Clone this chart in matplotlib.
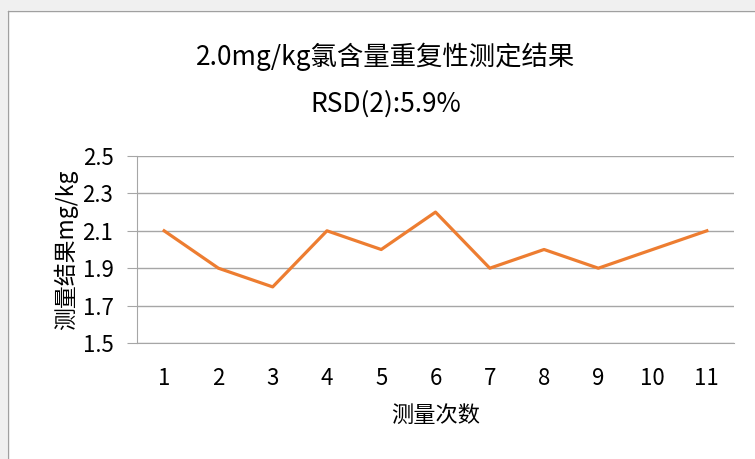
import matplotlib
matplotlib.use("Agg")
import matplotlib.pyplot as plt
from matplotlib.patches import Rectangle
from matplotlib.lines import Line2D

plt.rcParams['font.family'] = ['Noto Sans CJK SC', 'DejaVu Sans']

runs = ["1", "2", "3", "4", "5", "6", "7", "8", "9", "10", "11"]
results = [2.1, 1.9, 1.8, 2.1, 2.0, 2.2, 1.9, 2.0, 1.9, 2.0, 2.1]
yticks = [1.5, 1.7, 1.9, 2.1, 2.3, 2.5]

W, H = 755, 459
fig = plt.figure(figsize=(W / 100, H / 100), dpi=100)

# window-like frame at top and left
fig.patches.append(Rectangle((0, 1 - 10 / H), 1, 10 / H, transform=fig.transFigure,
                             facecolor="#f0f0f0", edgecolor="none", zorder=0))
fig.patches.append(Rectangle((0, 0), 7 / W, 1, transform=fig.transFigure,
                             facecolor="#f0f0f0", edgecolor="none", zorder=0))
fig.lines.append(Line2D([7.5 / W, 1], [1 - 10.5 / H, 1 - 10.5 / H], transform=fig.transFigure,
                        color="#a0a0a0", lw=1))
fig.lines.append(Line2D([7.5 / W, 7.5 / W], [0, 1 - 10.5 / H], transform=fig.transFigure,
                        color="#a0a0a0", lw=1))

ax = fig.add_axes([137 / W, 1 - 343 / H, (734 - 137) / W, (343 - 156) / H])
x = list(range(1, len(runs) + 1))
ax.plot(x, results, color="#ED7D31", lw=2.3, solid_joinstyle="round", zorder=3)

ax.set_xlim(0.5, len(runs) + 0.5)
ax.set_ylim(1.5, 2.5)
ax.set_yticks(yticks)
ax.set_yticklabels([f"{v:.1f}" for v in yticks])
ax.set_xticks(x)
ax.set_xticklabels(runs)
ax.grid(axis="y", color="#a6a6a6", lw=1)
ax.set_axisbelow(True)
for s in ["top", "right"]:
    ax.spines[s].set_visible(False)
ax.spines["left"].set_color("#a6a6a6")
ax.spines["bottom"].set_color("#a6a6a6")
ax.tick_params(axis="y", length=7, color="#a6a6a6", labelsize=16, pad=10)
ax.tick_params(axis="x", length=0, labelsize=16, pad=17)

ax.set_xlabel("测量次数", fontsize=16, labelpad=10)
ax.set_ylabel("测量结果mg/kg", fontsize=16.5, labelpad=3)

fig.text(386 / W, 1 - 57 / H, "2.0mg/kg氯含量重复性测定结果", ha="center", va="center", fontsize=19)
fig.text(386 / W, 1 - 104 / H, "RSD(2):5.9%", ha="center", va="center", fontsize=19)

fig.savefig("out.png", dpi=100)
